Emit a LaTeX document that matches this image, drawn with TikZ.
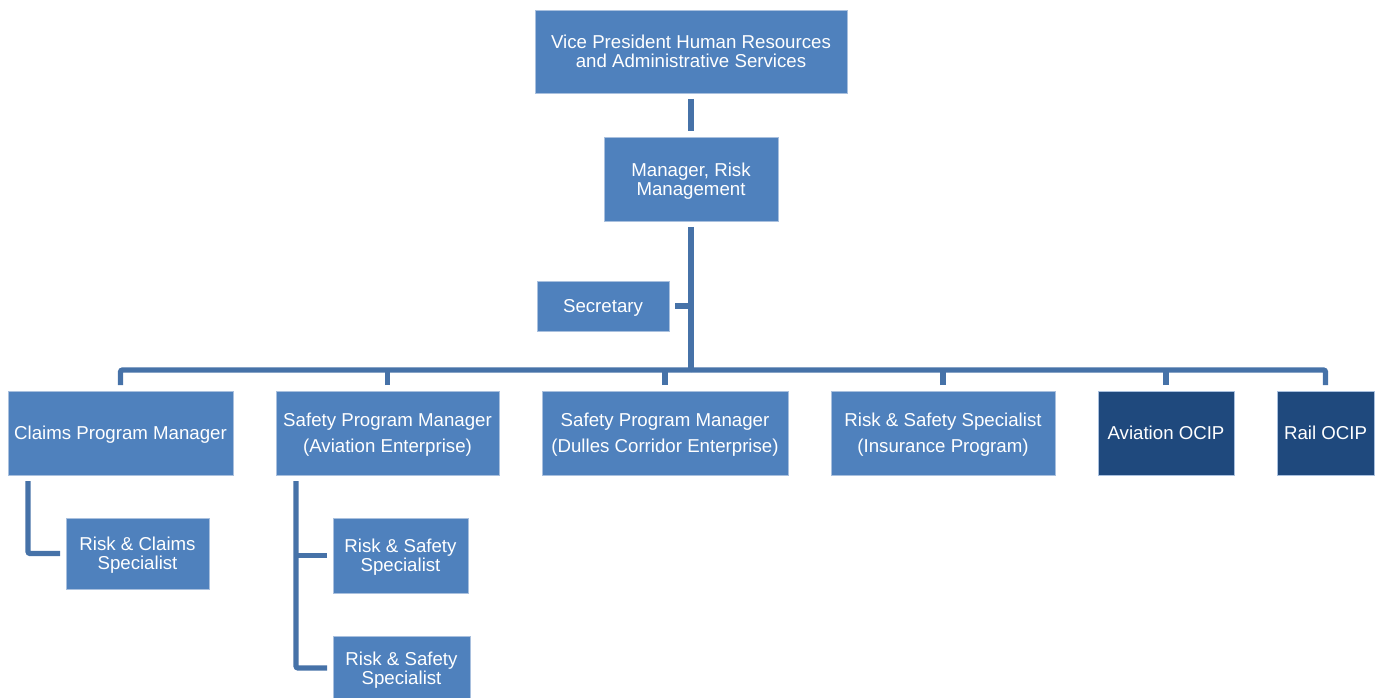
\documentclass[tikz,border=0pt]{standalone}
\usepackage{fontspec}
\setmainfont{Liberation Sans}
\usetikzlibrary{positioning}
\definecolor{boxblue}{HTML}{4F81BD}
\definecolor{boxnavy}{HTML}{1F497D}
\definecolor{boxedge}{HTML}{A9C0DE}
\definecolor{linkblue}{HTML}{4672A8}

\begin{document}
\begin{tikzpicture}[x=0.75pt,y=-0.75pt,
        box/.style={draw=boxedge,line width=0.6pt,fill=boxblue,text=white,align=center,
            font=\fontsize{14}{14.25}\selectfont,inner sep=0pt,outer sep=4.5pt,text depth=0pt},
        darkbox/.style={box,fill=boxnavy},
        wide/.style={font=\fontsize{14}{19.5}\selectfont},
        link/.style={draw=linkblue,line width=3.9pt,rounded corners=1.5pt}]
        \clip (0,0) rectangle (1377,698);

        % top of the chart
        \node[box,minimum width=234pt,minimum height=62.25pt] (vp) at (691,51.5)
            {Vice President Human Resources\\and Administrative Services};
        \node[box,minimum width=130.5pt,minimum height=63pt] (mgr) at (691,179)
            {Manager, Risk\\Management};
        \node[box,minimum width=99pt,minimum height=37.5pt] (sec) at (603,306) {Secretary};

        % second row
        \node[box,minimum width=168.75pt,minimum height=63pt] (claims) at (120.5,433)
            {Claims Program Manager};
        \node[box,wide,minimum width=167.25pt,minimum height=63pt] (spmav) at (387.5,433)
            {Safety Program Manager\\(Aviation Enterprise)};
        \node[box,wide,minimum width=184.5pt,minimum height=63pt] (spmdc) at (665,433)
            {Safety Program Manager\\(Dulles Corridor Enterprise)};
        \node[box,wide,minimum width=168pt,minimum height=63pt] (rsins) at (943,433)
            {Risk \& Safety Specialist\\(Insurance Program)};
        \node[darkbox,minimum width=102pt,minimum height=63pt] (avocip) at (1166,433)
            {Aviation OCIP};
        \node[darkbox,minimum width=72.75pt,minimum height=63pt] (railocip) at (1325.5,433)
            {Rail OCIP};

        % specialists
        \node[box,minimum width=107.25pt,minimum height=53.25pt] (rcs) at (137.5,553.5)
            {Risk \& Claims\\Specialist};
        \node[box,minimum width=101.25pt,minimum height=56.25pt] (rss1) at (400.5,555.5)
            {Risk \& Safety\\Specialist};
        \node[box,minimum width=102.75pt,minimum height=48pt] (rss2) at (401.5,668)
            {Risk \& Safety\\Specialist};

        \coordinate (bus) at (691,370);
        \path (claims.south) ++(-92.5,0) coordinate (clmtrunk);
        \path (spmav.south) ++(-91.5,0) coordinate (avtrunk);

        \draw[link] (vp) -- (mgr);
        \draw[link] (mgr) -- (bus);
        \draw[link] (sec) -- (sec -| mgr);
        \draw[link] (claims) |- (bus);
        \draw[link] (railocip) |- (bus);
        \foreach \n in {spmav,spmdc,rsins,avocip}
            \draw[link] (\n) -- (\n |- bus);
        \draw[link] (clmtrunk) |- (rcs);
        \draw[link] (avtrunk) |- (rss2);
        \draw[link] (rss1) -- (rss1 -| avtrunk);
\end{tikzpicture}
\end{document}
